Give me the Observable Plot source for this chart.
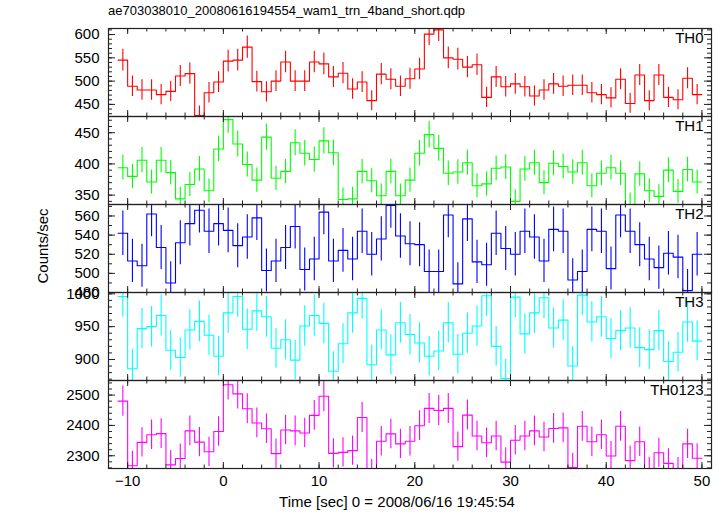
<!DOCTYPE html>
<html><head><meta charset="utf-8">
<script src="https://cdn.jsdelivr.net/npm/d3@7"></script>
<script src="https://cdn.jsdelivr.net/npm/@observablehq/plot@0.6"></script>
<style>
body{margin:0;background:#fff;font-family:"Liberation Sans",Arial,sans-serif;}
#wrap{position:relative;width:724px;height:516px;overflow:hidden;}
.panel{position:absolute;left:0;}
#title{position:absolute;left:108px;top:3px;font-size:13px;white-space:nowrap;}
#ylab{position:absolute;left:42px;top:246px;transform:translate(-50%,-50%) rotate(-90deg);font-size:15px;white-space:nowrap;}
#xlab{position:absolute;left:397px;top:493px;transform:translateX(-50%);font-size:15px;white-space:nowrap;}
</style></head><body>
<div id="wrap">
<div id="title">ae703038010_20080616194554_wam1_trn_4band_short.qdp</div>
<div id="ylab">Counts/sec</div>
<div id="xlab">Time [sec] 0 = 2008/06/16 19:45:54</div>
</div>
<script>
// time bins (1 s each) starting at t = -11
const binStart = -11;
const binWidth = 1;
const xDomain = [-12, 51];
const xMajorTicks = [-10, 0, 10, 20, 30, 40, 50];
const xMinorStep = 2;

const th0 = [545,489,481,481,471,478,511,516,426,475, 498,543,545,573,499,477,500,541,500,500, 541,537,509,517,483,498,458,515,504,489,
             505,526,601,610,550,547,530,535,465,509, 488,494,488,468,481,494,489,491,491,475, 471,464,504,452,513,458,513,465,460,506, 471];
const th1 = [394,380,406,371,406,386,344,367,392,357, 424,471,432,399,374,443,377,388,434,417, 407,437,418,343,344,388,373,349,388,349,
             374,417,447,425,385,387,402,365,368,393, 395,340,392,402,370,401,396,387,402,365, 385,394,385,335,384,357,348,390,356,391, 371];
const th2 = [542,513,508,562,527,490,532,552,566,544, 552,545,529,538,558,503,513,527,549,504, 515,564,513,524,515,544,520,536,571,539,
             531,530,502,502,561,489,557,512,509,542, 526,520,544,538,513,546,544,493,502,546, 544,505,561,544,530,515,506,521,517,482, 520];
const th3 = [996,886,947,950,967,914,903,945,958,937, 905,971,996,946,974,965,917,930,899,951, 967,955,882,924,971,993,892,945,907,956,
             938,925,905,913,956,908,940,951,997,920, 871,995,939,971,994,948,960,890,998,957, 965,932,944,948,918,915,944,897,911,957, 928];
const th0123 = [2480,2267,2344,2369,2373,2270,2291,2382,2345,2313, 2380,2534,2504,2455,2408,2389,2307,2385,2382,2375, 2433,2496,2308,2311,2317,2426,2240,2348,2372,2339,
                2348,2399,2456,2449,2456,2330,2434,2365,2343,2365, 2279,2351,2365,2382,2362,2390,2392,2261,2397,2346, 2369,2299,2397,2284,2346,2248,2310,2275,2247,2339, 2292];

const panelNames = ["TH0", "TH1", "TH2", "TH3", "TH0123"];
const panelColors = ["#ff0000", "#00ff00", "#0000ff", "#00ffff", "#ff00ff"];
const panelValues = [th0, th1, th2, th3, th0123];
const panelDomains = [[424, 613], [335, 476], [480, 572], [868, 1002], [2258, 2548]];
const panelMajorTicks = [[450, 500, 550, 600], [350, 400, 450], [480, 500, 520, 540, 560], [900, 950, 1000], [2300, 2400, 2500]];
const panelMinorStep = [10, 10, 10, 10, 20];

const W = 724, ML = 108, MR = 13, PW = W - ML - MR, PH = 88, TOP = 28, MB = 48;
const FONT = '"Liberation Sans", Arial, sans-serif';

function inRange(arr, dom) { return arr.filter(v => v >= dom[0] - 1e-9 && v <= dom[1] + 1e-9); }

const wrap = document.getElementById("wrap");
panelValues.forEach((values, p) => {
  const bottom = p === panelValues.length - 1;
  const dom = panelDomains[p];
  const color = panelColors[p];
  const bins = values.map((v, i) => ({t: binStart + (i + 0.5) * binWidth, v, e: Math.sqrt(v * binWidth) / binWidth}));
  const steps = values.map((v, i) => ({t: binStart + i * binWidth, v}));
  steps.push({t: binStart + values.length * binWidth, v: values[values.length - 1]});
  const ms = panelMinorStep[p];
  const yMinor = inRange(d3.range(Math.ceil(dom[0] / ms) * ms, dom[1] + 1e-9, ms), dom);
  const yMajor = inRange(panelMajorTicks[p], dom);
  const xMinor = inRange(d3.range(xDomain[0], xDomain[1] + 1e-9, xMinorStep), xDomain);
  const marks = [
    Plot.line(steps, {x: "t", y: "v", curve: "step-after", stroke: color, strokeWidth: 1.1, clip: true}),
    Plot.ruleX(bins, {x: "t", y1: d => d.v - d.e, y2: d => d.v + d.e, stroke: color, strokeWidth: 1.1, clip: true}),
    Plot.frame({stroke: "#222", strokeWidth: 1.2}),
    Plot.tickY(yMajor, {y: d => d, insetRight: PW - 7, stroke: "#222"}),
    Plot.tickY(yMajor, {y: d => d, insetLeft: PW - 7, stroke: "#222"}),
    Plot.tickY(yMinor, {y: d => d, insetRight: PW - 4, stroke: "#222"}),
    Plot.tickY(yMinor, {y: d => d, insetLeft: PW - 4, stroke: "#222"}),
    Plot.tickX(xMajorTicks, {x: d => d, insetBottom: PH - 6, stroke: "#222"}),
    Plot.tickX(xMajorTicks, {x: d => d, insetTop: PH - 6, stroke: "#222"}),
    Plot.tickX(xMinor, {x: d => d, insetBottom: PH - 3.5, stroke: "#222"}),
    Plot.tickX(xMinor, {x: d => d, insetTop: PH - 3.5, stroke: "#222"}),
    Plot.axisY({ticks: yMajor, tickFormat: d => String(d), tickSize: 0, tickPadding: 9, fontSize: 15, label: null, fill: "#000"}),
    Plot.text([panelNames[p]], {text: d => d, frameAnchor: "top-right", dx: -8, dy: 4, lineAnchor: "top", fontSize: 15, fill: "#000"})
  ];
  if (bottom) marks.push(Plot.axisX({ticks: xMajorTicks, tickSize: 0, tickPadding: 7, fontSize: 15, label: null, fill: "#000"}));
  const chart = Plot.plot({
    width: W, height: PH + (bottom ? MB : 0),
    marginLeft: ML, marginRight: MR, marginTop: 0, marginBottom: bottom ? MB : 0,
    style: {overflow: "visible", fontFamily: FONT, fontSize: "15px", background: "transparent", color: "#000"},
    x: bottom ? {domain: xDomain} : {domain: xDomain, axis: null},
    y: {domain: dom},
    marks
  });
  chart.classList.add("panel");
  chart.style.top = (TOP + p * PH) + "px";
  chart.style.position = "absolute";
  wrap.appendChild(chart);
});
</script>
</body></html>
